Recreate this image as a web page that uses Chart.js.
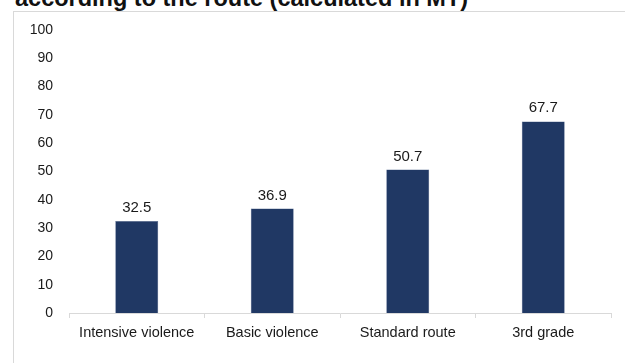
<!DOCTYPE html>
<html lang="en">
<head>
    <meta charset="UTF-8">
    <title>According to the route (calculated in MT)</title>
    <style>
        body {
            margin: 0;
            padding: 0;
            background: #ffffff;
            width: 625px;
            height: 363px;
            overflow: hidden;
            position: relative;
            font-family: 'Liberation Sans', Arial, sans-serif;
        }
        #title {
            position: absolute;
            left: 15px;
            top: -14px;
            font-size: 23.5px;
            font-weight: bold;
            line-height: 24px;
            color: #111;
            white-space: nowrap;
        }
        #frame {
            position: absolute;
            left: 13px;
            top: 11px;
            width: 700px;
            height: 400px;
            border-top: 1px solid #d9d9d9;
            border-left: 1px solid #d9d9d9;
        }
        #chart {
            position: absolute;
            left: 0;
            top: 0;
        }
    </style>
</head>
<body>
    <div id="title">according to the route (calculated in MT)</div>
    <div id="frame"></div>
    <canvas id="chart" width="625" height="363"></canvas>

    <script src="https://cdn.jsdelivr.net/npm/chart.js"></script>
    <script>
        // Dados
        const categories = ['Intensive violence', 'Basic violence', 'Standard route', '3rd grade'];
        const values = [32.5, 36.9, 50.7, 67.7];
        const yTicks = [0, 10, 20, 30, 40, 50, 60, 70, 80, 90, 100];

        const fontFamily = "'Liberation Sans', Arial, sans-serif";

        // rótulos acima das barras
        const valueLabels = {
            id: 'valueLabels',
            afterDatasetsDraw(chart) {
                const ctx = chart.ctx;
                const meta = chart.getDatasetMeta(0);
                ctx.save();
                ctx.font = '15px ' + fontFamily;
                ctx.fillStyle = '#1a1a1a';
                ctx.textAlign = 'center';
                ctx.textBaseline = 'alphabetic';
                meta.data.forEach(function(bar, i) {
                    ctx.fillText(values[i].toFixed(1), bar.x, bar.y - 9);
                });
                ctx.restore();
            }
        };

        new Chart(document.getElementById('chart'), {
            type: 'bar',
            data: {
                labels: categories,
                datasets: [{
                    data: values,
                    backgroundColor: '#203864',
                    borderColor: '#4a5f86',
                    borderWidth: 0.5,
                    categoryPercentage: 1,
                    barPercentage: 0.317
                }]
            },
            options: {
                responsive: false,
                animation: false,
                layout: {
                    padding: { left: 0, right: 14, top: 30, bottom: 0 }
                },
                plugins: {
                    legend: { display: false },
                    tooltip: { enabled: false }
                },
                scales: {
                    x: {
                        grid: {
                            display: true,
                            drawOnChartArea: false,
                            drawTicks: true,
                            tickLength: 5,
                            color: '#d9d9d9'
                        },
                        border: { display: true, color: '#d9d9d9' },
                        ticks: {
                            color: '#1a1a1a',
                            font: { size: 14.5, family: fontFamily },
                            padding: 6,
                            maxRotation: 0
                        },
                        afterFit(scale) { scale.height = 50; }
                    },
                    y: {
                        min: 0,
                        max: 100,
                        grid: { display: false, drawTicks: false },
                        border: { display: false },
                        ticks: {
                            stepSize: 10,
                            color: '#1a1a1a',
                            font: { size: 14, family: fontFamily },
                            padding: 16
                        },
                        afterBuildTicks(scale) {
                            scale.ticks = yTicks.map(v => ({ value: v }));
                        },
                        afterFit(scale) { scale.width = 69; }
                    }
                }
            },
            plugins: [valueLabels]
        });
    </script>
</body>
</html>
